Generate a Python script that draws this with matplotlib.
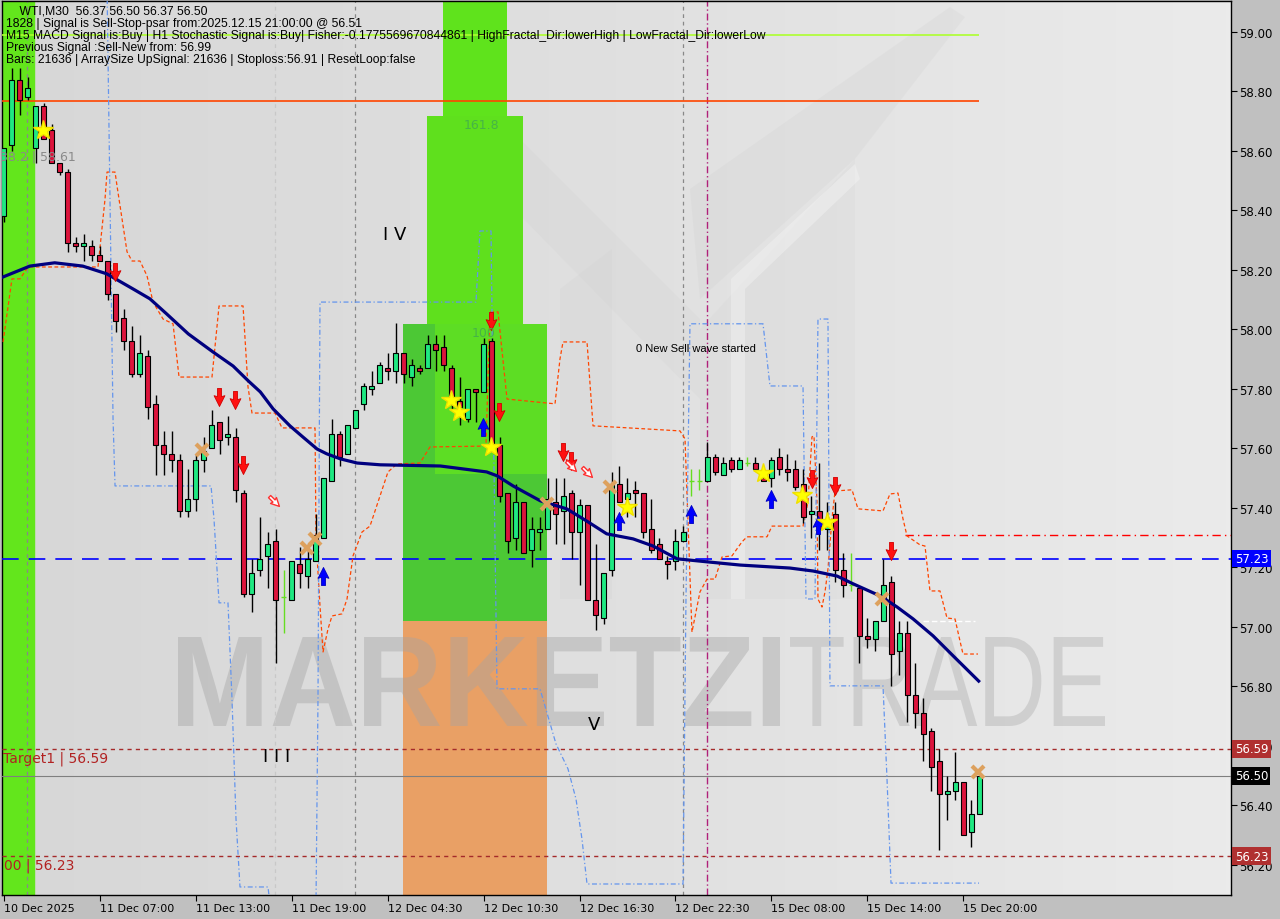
import numpy as np
import matplotlib.pyplot as plt
from matplotlib.patches import Rectangle, PathPatch, Polygon
from matplotlib.path import Path
from matplotlib.markers import MarkerStyle
from matplotlib.textpath import TextPath
from matplotlib.font_manager import FontProperties
from matplotlib.transforms import Affine2D, IdentityTransform
from matplotlib.colors import LinearSegmentedColormap

# WTI M30 candles (bar index 0 = 10 Dec 2025 19:00)
opens = [58.38, 58.62, 58.84, 58.78, 58.61, 58.75, 58.67, 58.56, 58.53, 58.29,
         58.28, 58.28, 58.25, 58.23, 58.12, 58.04, 57.96, 57.85, 57.91, 57.75,
         57.61, 57.58, 57.56, 57.39, 57.43, 57.56, 57.60, 57.69, 57.64, 57.64,
         57.45, 57.11, 57.19, 57.24, 57.29, 57.10, 57.09, 57.21, 57.17, 57.22,
         57.30, 57.49, 57.65, 57.58, 57.67, 57.75, 57.80, 57.82, 57.87, 57.86,
         57.92, 57.84, 57.87, 57.87, 57.95, 57.94, 57.87, 57.76, 57.70, 57.80,
         57.79, 57.96, 57.61, 57.45, 57.30, 57.42, 57.26, 57.32, 57.33, 57.42,
         57.39, 57.45, 57.32, 57.41, 57.09, 57.03, 57.19, 57.48, 57.43, 57.46,
         57.45, 57.33, 57.28, 57.22, 57.22, 57.29, 57.49, 57.49, 57.49, 57.57,
         57.51, 57.56, 57.53, 57.55, 57.55, 57.50, 57.50, 57.57, 57.53, 57.53,
         57.48, 57.38, 57.39, 57.33, 57.38, 57.19, 57.14, 57.13, 56.97, 56.96,
         57.02, 57.15, 56.92, 56.98, 56.77, 56.71, 56.65, 56.55, 56.44, 56.45,
         56.48, 56.31, 56.37]
highs = [58.61, 58.88, 58.88, 58.85, 58.75, 58.76, 58.69, 58.56, 58.54, 58.31,
         58.32, 58.30, 58.28, 58.23, 58.12, 58.07, 58.01, 57.98, 57.93, 57.78,
         57.66, 57.66, 57.58, 57.53, 57.58, 57.64, 57.73, 57.69, 57.71, 57.67,
         57.46, 57.23, 57.37, 57.32, 57.33, 57.19, 57.22, 57.27, 57.28, 57.38,
         57.50, 57.70, 57.66, 57.68, 57.73, 57.82, 57.86, 57.89, 57.92, 58.02,
         57.92, 57.90, 57.88, 57.98, 57.98, 57.98, 57.88, 57.84, 57.80, 57.80,
         57.97, 57.97, 57.64, 57.45, 57.48, 57.42, 57.37, 57.37, 57.50, 57.50,
         57.50, 57.46, 57.43, 57.41, 57.28, 57.18, 57.52, 57.54, 57.50, 57.49,
         57.45, 57.43, 57.30, 57.24, 57.33, 57.34, 57.53, 57.53, 57.62, 57.58,
         57.57, 57.57, 57.57, 57.57, 57.57, 57.52, 57.57, 57.60, 57.58, 57.56,
         57.53, 57.44, 57.55, 57.42, 57.42, 57.25, 57.25, 57.13, 57.03, 57.02,
         57.23, 57.17, 57.02, 57.02, 56.88, 56.76, 56.66, 56.59, 56.50, 56.58,
         56.48, 56.42, 56.50]
lows = [58.36, 58.60, 58.72, 58.77, 58.56, 58.64, 58.56, 58.52, 58.26, 58.26,
        58.23, 58.23, 58.23, 58.10, 57.99, 57.93, 57.84, 57.84, 57.70, 57.51,
        57.51, 57.52, 57.37, 57.37, 57.39, 57.52, 57.60, 57.58, 57.61, 57.42,
        57.10, 57.05, 57.17, 57.13, 56.88, 56.98, 57.09, 57.13, 57.13, 57.22,
        57.30, 57.49, 57.54, 57.58, 57.67, 57.73, 57.78, 57.82, 57.83, 57.82,
        57.82, 57.81, 57.85, 57.87, 57.86, 57.86, 57.73, 57.68, 57.69, 57.69,
        57.79, 57.61, 57.42, 57.25, 57.26, 57.25, 57.20, 57.26, 57.33, 57.28,
        57.28, 57.23, 57.14, 57.09, 56.99, 57.01, 57.17, 57.42, 57.37, 57.37,
        57.30, 57.25, 57.23, 57.16, 57.19, 57.29, 57.44, 57.46, 57.49, 57.51,
        57.51, 57.52, 57.53, 57.54, 57.53, 57.49, 57.47, 57.51, 57.49, 57.46,
        57.35, 57.30, 57.26, 57.26, 57.15, 57.10, 57.12, 56.88, 56.93, 56.92,
        57.02, 56.80, 56.84, 56.68, 56.66, 56.55, 56.45, 56.25, 56.35, 56.42,
        56.30, 56.26, 56.37]
closes = [58.61, 58.84, 58.77, 58.81, 58.75, 58.64, 58.56, 58.53, 58.29, 58.28,
          58.29, 58.25, 58.23, 58.12, 58.03, 57.96, 57.85, 57.92, 57.74, 57.61,
          57.58, 57.56, 57.39, 57.43, 57.56, 57.59, 57.68, 57.63, 57.65, 57.46,
          57.11, 57.18, 57.23, 57.28, 57.09, 57.10, 57.22, 57.18, 57.23, 57.31,
          57.50, 57.65, 57.57, 57.68, 57.73, 57.81, 57.81, 57.88, 57.86, 57.92,
          57.85, 57.88, 57.86, 57.95, 57.93, 57.88, 57.77, 57.74, 57.80, 57.79,
          57.95, 57.61, 57.44, 57.29, 57.42, 57.25, 57.33, 57.33, 57.43, 57.38,
          57.44, 57.32, 57.41, 57.09, 57.04, 57.18, 57.48, 57.42, 57.45, 57.45,
          57.32, 57.26, 57.23, 57.21, 57.29, 57.32, 57.49, 57.49, 57.57, 57.52,
          57.55, 57.53, 57.56, 57.55, 57.53, 57.49, 57.56, 57.53, 57.52, 57.47,
          57.37, 57.39, 57.33, 57.35, 57.19, 57.14, 57.14, 56.97, 56.96, 57.02,
          57.14, 56.91, 56.98, 56.77, 56.71, 56.64, 56.53, 56.44, 56.45, 56.48,
          56.30, 56.37, 56.50]

time_ticks = [0, 12, 24, 36, 48, 60, 72, 84, 96, 108, 120]
time_labels = ["10 Dec 2025", "11 Dec 07:00", "11 Dec 13:00", "11 Dec 19:00",
               "12 Dec 04:30", "12 Dec 10:30", "12 Dec 16:30", "12 Dec 22:30",
               "15 Dec 08:00", "15 Dec 14:00", "15 Dec 20:00"]
price_ticks = [56.20, 56.40, 56.60, 56.80, 57.00, 57.20, 57.40, 57.60,
               57.80, 58.00, 58.20, 58.40, 58.60, 58.80, 59.00]

# moving average (navy)
ma_bars = [-0.1, 3.3, 6.4, 9.9, 12.9, 16.2, 18.3, 20.4, 23.1, 26.2, 28.7, 30.6,
           32.1, 33.7, 35.8, 37.4, 39.2, 40.4, 42.1, 44.2, 47.1, 54.6, 60.4,
           61.7, 63.7, 67.1, 70.4, 72.9, 75.4, 78.7, 81.2, 84.2, 87.9, 92.1,
           98.3, 101.2, 104.2, 106.2, 109.6, 111.7, 113.7, 116.2, 118.7, 121.9]
ma_vals = [58.176, 58.213, 58.224, 58.213, 58.187, 58.136, 58.103, 58.052,
           57.985, 57.924, 57.877, 57.827, 57.790, 57.733, 57.676, 57.639,
           57.598, 57.582, 57.565, 57.551, 57.545, 57.541, 57.521, 57.508,
           57.474, 57.424, 57.397, 57.356, 57.313, 57.296, 57.272, 57.229,
           57.219, 57.208, 57.198, 57.188, 57.171, 57.145, 57.104, 57.067,
           57.027, 56.970, 56.903, 56.818]

# orange stepped band
orange_bars = [-0.06, 1.06, 2.06, 3.06, 11.81, 12.69, 12.94, 13.94, 14.19, 15.44,
               16.06, 17.06, 17.94, 18.69, 19.94, 21.19, 21.94, 26.06, 26.94,
               29.94, 30.56, 31.06, 33.94, 34.81, 38.94, 39.06, 39.56, 39.94,
               40.56, 41.06, 42.31, 42.94, 43.69, 44.81, 45.81, 47.06, 48.06,
               49.19, 52.06, 53.31, 60.31, 60.81, 61.81, 62.94, 68.94, 69.56,
               69.94, 72.94, 73.69, 84.56, 85.19, 86.06, 87.06, 87.94, 88.94,
               89.81, 91.06, 92.31, 92.94, 95.44, 96.06, 99.94, 100.56, 101.06,
               101.31, 101.69, 101.81, 102.31, 102.69, 103.06, 103.56, 103.94,
               106.06, 106.81, 109.94, 110.81, 111.81, 112.44, 112.94, 114.56,
               115.19, 115.81, 117.06, 117.94, 118.94, 119.56, 119.94, 121.81]
orange_vals = [57.958, 58.170, 58.170, 58.210, 58.210, 58.439, 58.529, 58.529,
               58.482, 58.261, 58.230, 58.230, 58.180, 58.092, 58.035, 58.019,
               57.840, 57.840, 58.079, 58.079, 57.807, 57.719, 57.719, 57.669,
               57.669, 57.296, 57.071, 56.916, 56.993, 57.037, 57.044, 57.094,
               57.239, 57.319, 57.339, 57.440, 57.521, 57.548, 57.551, 57.605,
               57.608, 58.059, 58.059, 57.766, 57.750, 57.901, 57.958, 57.958,
               57.676, 57.659, 57.632, 56.983, 57.118, 57.161, 57.161, 57.235,
               57.239, 57.286, 57.303, 57.303, 57.339, 57.339, 57.420, 57.639,
               57.642, 57.420, 57.094, 57.067, 57.118, 57.195, 57.363, 57.457,
               57.461, 57.397, 57.390, 57.447, 57.450, 57.363, 57.306, 57.276,
               57.272, 57.121, 57.121, 57.030, 57.027, 56.953, 56.909, 56.909]

# blue stepped band
blue_bars = [12.94, 13.31, 13.69, 13.94, 25.94, 26.31, 26.94, 28.06, 28.56, 29.06,
             29.56, 33.06, 33.31, 39.06, 39.31, 39.56, 59.06, 59.56, 60.94, 61.19,
             61.69, 67.06, 69.06, 70.56, 71.56, 72.31, 72.94, 84.94, 85.31, 85.81,
             94.94, 95.81, 99.94, 100.31, 101.44, 101.81, 103.06, 103.31, 109.94,
             110.44, 110.94, 121.94]
blue_vals = [59.145, 58.439, 57.699, 57.474, 57.474, 57.363, 57.081, 57.081,
             56.758, 56.355, 56.126, 56.126, 56.069, 56.069, 56.758, 58.092,
             58.092, 58.331, 58.331, 57.766, 56.792, 56.792, 56.607, 56.523,
             56.422, 56.287, 56.136, 56.136, 57.094, 58.019, 58.019, 57.810,
             57.810, 57.094, 57.094, 58.035, 58.035, 56.802, 56.802, 56.489,
             56.139, 56.139]

sell_bars = [13.94, 26.94, 28.94, 29.94, 60.94, 61.94, 69.94, 70.94, 101.06, 103.94, 110.94]
sell_prices = [58.193, 57.773, 57.763, 57.545, 58.029, 57.723, 57.588, 57.558, 57.497, 57.474, 57.255]
buy_bars = [39.94, 59.94, 76.94, 85.94, 95.94, 101.81]
buy_prices = [57.171, 57.672, 57.356, 57.380, 57.430, 57.343]
star_bars = [4.94, 55.94, 56.94, 60.94, 77.94, 94.94, 99.81, 102.94]
star_prices = [58.671, 57.763, 57.723, 57.605, 57.403, 57.518, 57.444, 57.353]
cross_bars = [24.81, 37.94, 38.94, 67.94, 75.81, 109.81, 121.81]
cross_prices = [57.595, 57.266, 57.296, 57.413, 57.471, 57.094, 56.513]
hollow_bars = [33.81, 70.94, 72.94]
hollow_prices = [57.424, 57.541, 57.521]

fib_zones = [  # (bar0, bar1, price_lo, price_hi, colour)
    (49.94, 67.94, 57.020, 58.018, '#4cc835'),
    (52.94, 64.94, 58.018, 58.718, '#5fe01d'),
    (53.94, 67.94, 57.514, 58.018, '#5ddd24'),
    (54.94, 62.94, 58.718, 59.200, '#5fe31c'),
    (49.94, 67.94, 56.000, 57.020, '#e9a065'),
]

header_lines = [
    "    WTI,M30  56.37 56.50 56.37 56.50",
    "1828 | Signal is Sell-Stop-psar from:2025.12.15 21:00:00 @ 56.51",
    "M15 MACD Signal is:Buy | H1 Stochastic Signal is:Buy| Fisher:-0.1775569670844861 | HighFractal_Dir:lowerHigh | LowFractal_Dir:lowerLow",
    "Previous Signal :Sell-New from: 56.99",
    "Bars: 21636 | ArraySize UpSignal: 21636 | Stoploss:56.91 | ResetLoop:false",
]

xmin, xmax = -0.19, 153.44
ymin, ymax = 56.099, 59.104

fig = plt.figure(figsize=(12.8, 9.2), dpi=100, facecolor='#c0c0c0')
ax = fig.add_axes([2/1280, 24/920, 1229/1280, 894/920])
ax.set_xlim(xmin, xmax)
ax.set_ylim(ymin, ymax)

bg = LinearSegmentedColormap.from_list('bg', ['#d7d7d7', '#e0e0e0', '#ebebeb'])
ax.imshow(np.linspace(0, 1, 256).reshape(1, -1), cmap=bg, extent=[xmin, xmax, ymin, ymax],
          aspect='auto', zorder=0)

# faint logo shapes in the background (pixel coordinates)
def px_poly(pts, col, alpha):
    ax.add_patch(Polygon([(x, 920 - y) for x, y in pts], closed=True, transform=IdentityTransform(),
                         facecolor=col, edgecolor='none', alpha=alpha, zorder=0.5))

px_poly([(560, 600), (560, 290), (612, 250), (612, 600)], '#c8c8c8', 0.15)
px_poly([(455, 150), (500, 120), (700, 320), (700, 400)], '#c8c8c8', 0.15)
px_poly([(700, 600), (700, 330), (855, 160), (855, 600)], '#c8c8c8', 0.12)
px_poly([(690, 190), (950, 8), (965, 18), (855, 160), (700, 300)], '#c8c8c8', 0.18)
px_poly([(731, 600), (731, 280), (855, 165), (860, 180), (745, 290), (745, 600)], '#f6f6f6', 0.4)

ax.axvspan(xmin, 3.8, color='#63e61c', zorder=1)
for b0, b1, lo, hi, col in fib_zones:
    ax.add_patch(Rectangle((b0, lo), b1 - b0, hi - lo, facecolor=col, edgecolor='none', zorder=1.2))

# watermark
def watermark(txt, weight, x0, x1, base, cap, col, alpha):
    tp = TextPath((0, 0), txt, size=100, prop=FontProperties(family='Liberation Sans', weight=weight))
    ext = tp.get_extents()
    tr = Affine2D().translate(-ext.x0, -ext.y0).scale((x1 - x0) / ext.width, cap / ext.height)
    tr = tr.translate(x0, 920 - base)
    ax.add_patch(PathPatch(tr.transform_path(tp), transform=IdentityTransform(),
                           facecolor=col, edgecolor='none', alpha=alpha, zorder=1.5))

watermark("MARKETZI", 'bold', 178, 780, 727, 89, '#a4a4a4', 0.42)
watermark("TRADE", 'normal', 790, 1105, 727, 89, '#acacac', 0.4)

# vertical separators
for xv, col in [(2.94, '#888888'), (33.94, '#c8c8c8'), (43.94, '#888888'), (84.94, '#888888')]:
    ax.axvline(xv, color=col, lw=0.9, ls=(0, (3, 3)), zorder=2)
ax.axvline(87.94, color='#b0207a', lw=1, ls=(0, (5, 2, 1, 2)), zorder=2)

# levels
ax.hlines(58.99, xmin, 122, color='#adff2f', lw=1.2, zorder=3)
ax.hlines(58.768, xmin, 122, color='#ff4500', lw=1.2, zorder=3)
ax.axhline(57.23, color='#0000ff', lw=1.2, ls=(0, (10, 6)), zorder=3)
ax.hlines(57.31, 112.7, xmax, color='#ff0000', lw=1, ls=(0, (6, 3, 1, 3)), zorder=3)
ax.hlines(57.02, 114.9, 121.4, color='white', lw=1, ls=(0, (4, 2)), zorder=3)
ax.axhline(56.59, color='#a52a2a', lw=1, ls=(0, (3, 3)), zorder=3)
ax.axhline(56.50, color='#7f7f7f', lw=0.8, zorder=3)
ax.axhline(56.23, color='#a52a2a', lw=1, ls=(0, (3, 3)), zorder=3)

ax.plot(orange_bars, orange_vals, color='#ff4500', lw=0.9, ls=(0, (3, 2)), zorder=4)
ax.plot(blue_bars, blue_vals, color='#6495ed', lw=0.9, ls=(0, (4, 2, 1, 2)), zorder=4)

# candles
idx = np.arange(len(opens))
o = np.array(opens); h = np.array(highs); l = np.array(lows); c = np.array(closes)
doji = np.isclose(o, c)
ax.vlines(idx[~doji], l[~doji], h[~doji], color='black', lw=1, zorder=5)
bull = (c > o) & ~doji
bear = (c < o) & ~doji
for m, col in [(bull, '#1fe882'), (bear, '#dc143c')]:
    ax.bar(idx[m], np.maximum(np.abs(c[m] - o[m]), 0.008), bottom=np.minimum(o[m], c[m]),
           width=0.62, color=col, edgecolor='black', linewidth=0.8, zorder=6)
ax.vlines(idx[doji], l[doji], h[doji], color='#66dd22', lw=1, zorder=5)
ax.hlines(c[doji], idx[doji] - 0.35, idx[doji] + 0.35, color='#66dd22', lw=1, zorder=5)

ax.plot(ma_bars, ma_vals, color='#00007f', lw=2.3, zorder=7)

# signal markers
arrow = Path([(-0.22, 1), (0.22, 1), (0.22, 0.1), (0.6, 0.2), (0, -1), (-0.6, 0.2), (-0.22, 0.1), (-0.22, 1)],
             [Path.MOVETO] + [Path.LINETO] * 6 + [Path.CLOSEPOLY])
ax.plot(sell_bars, sell_prices, ls='none', marker=arrow, ms=13, mfc='#ff1010', mec='#d00000', mew=0.6, zorder=8)
ax.plot(buy_bars, buy_prices, ls='none', marker=MarkerStyle(arrow, transform=Affine2D().scale(1, -1)),
        ms=13, mfc='#0000ff', mec='#0000c0', mew=0.6, zorder=8)
ax.plot(star_bars, star_prices, ls='none', marker='*', ms=15, mfc='#ffff00', mec='#f0e000', zorder=8)
ax.plot(cross_bars, cross_prices, ls='none', marker='x', ms=8, mew=3, color='#dda15e', zorder=8)
ax.plot(hollow_bars, hollow_prices, ls='none', marker=MarkerStyle(arrow, transform=Affine2D().rotate_deg(45)),
        ms=10, mfc='white', mec='#ff3030', mew=1, zorder=8)

# chart texts
ax.text(47.4, 58.32, "I V", fontsize=13, color='black', va='center', zorder=9)
ax.text(32.4, 56.566, "I I I", fontsize=13, color='black', va='center', zorder=9)
ax.text(73.1, 56.674, "V", fontsize=13, color='black', va='center', zorder=9)
ax.text(59.8, 58.69, "161.8", fontsize=9, color='#46b446', ha='center', va='center', zorder=9)
ax.text(60.0, 57.99, "100", fontsize=9, color='#46b446', ha='center', va='center', zorder=9)
ax.text(-0.5, 58.583, "38.2 | 58.61", fontsize=9, color='#8a8a8a', va='center', zorder=9, clip_on=True)
ax.text(79.06, 57.938, "0 New Sell wave started", fontsize=8, family='Liberation Sans',
        color='black', va='center', zorder=9)
ax.text(13.1, 56.56, "Target1 | 56.59", fontsize=10, color='#b22222', ha='right', va='center',
        zorder=9, clip_on=True)
ax.text(0.1, 56.20, "00 | 56.23", fontsize=10, color='#b22222', va='center', zorder=9)

for k, line in enumerate(header_lines):
    fig.text(6/1280, 1 - (12 + 12 * k)/920, line, fontsize=8.7, family='Liberation Sans',
             color='black', va='center')

# axes cosmetics
for s in ax.spines.values():
    s.set_color('black')
    s.set_linewidth(1)
ax.yaxis.tick_right()
ax.set_yticks(price_ticks)
ax.set_yticklabels([f"{p:.2f}" for p in price_ticks])
ax.tick_params(axis='y', length=4, pad=2, labelsize=8.5, colors='black')
ax.set_xticks(time_ticks)
ax.set_xticklabels(time_labels, ha='left')
ax.tick_params(axis='x', length=4, pad=2, labelsize=8, colors='black')

for val, fc in [(57.23, '#0000ff'), (56.59, '#b03030'), (56.50, '#000000'), (56.23, '#b03030')]:
    ax.text(1.003, val, f"{val:.2f}", transform=ax.get_yaxis_transform(), fontsize=8.5,
            color='white', va='center', ha='left', zorder=10,
            bbox=dict(boxstyle='square,pad=0.2', fc=fc, ec='none'), clip_on=False)

fig.savefig('out.png', dpi=100, facecolor=fig.get_facecolor())
